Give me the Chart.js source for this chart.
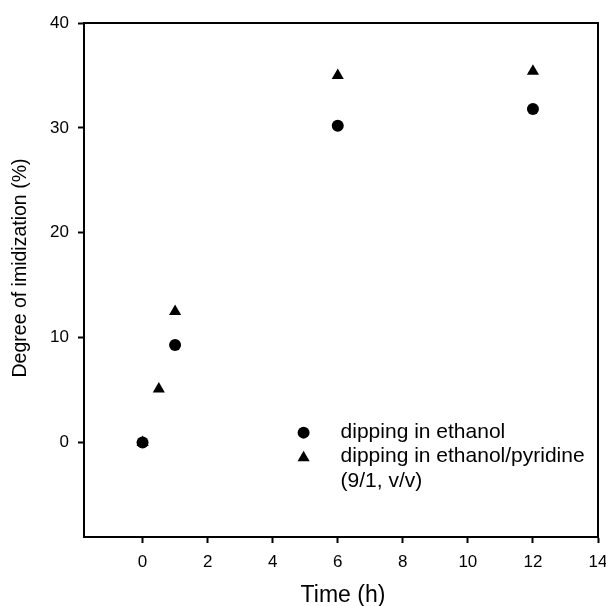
<!DOCTYPE html>
<html>
<head>
<meta charset="utf-8">
<script src="https://cdn.jsdelivr.net/npm/chart.js@4"></script>
<style>
  html, body { margin: 0; padding: 0; background: #fff; }
  #wrap { width: 606px; height: 606px; }
</style>
</head>
<body>
<div id="wrap"><canvas id="myChart" width="606" height="606"></canvas></div>
<script>
// data
const timeEthanol = [0, 1, 6, 12];
const degreeEthanol = [0, 9.3, 30.2, 31.8];
const timePyridine = [0, 0.5, 1, 6, 12];
const degreePyridine = [0, 5.1, 12.5, 35.0, 35.4];
const xTicks = [0, 2, 4, 6, 8, 10, 12, 14];
const yTicks = [0, 10, 20, 30, 40];
const legendLabels = ['dipping in ethanol', 'dipping in ethanol/pyridine', '(9/1, v/v)'];

const FONT = "'Liberation Sans', Arial, sans-serif";

function toPoints(xs, ys) {
    return xs.map((x, i) => ({ x: x, y: ys[i] }));
}

function drawMarker(ctx, style, x, y) {
    ctx.beginPath();
    if (style === 'circle') {
        ctx.arc(x, y, 6, 0, Math.PI * 2);
    } else {
        const r = 7;
        ctx.moveTo(x, y - r);
        ctx.lineTo(x + r * Math.sin(Math.PI * 2 / 3), y - r * Math.cos(Math.PI * 2 / 3));
        ctx.lineTo(x - r * Math.sin(Math.PI * 2 / 3), y - r * Math.cos(Math.PI * 2 / 3));
        ctx.closePath();
    }
    ctx.fillStyle = '#000';
    ctx.fill();
}

// box, titles and in-plot legend
const decorations = {
    id: 'decorations',
    afterDraw(chart) {
        const ctx = chart.ctx;
        const a = chart.chartArea;
        ctx.save();
        ctx.strokeStyle = '#000';
        ctx.lineWidth = 2;
        ctx.beginPath();
        ctx.moveTo(a.left, a.top);
        ctx.lineTo(a.right, a.top);
        ctx.lineTo(a.right, a.bottom);
        ctx.stroke();

        ctx.fillStyle = '#000';
        ctx.textAlign = 'center';
        ctx.textBaseline = 'middle';
        ctx.font = '23px ' + FONT;
        ctx.fillText('Time (h)', (a.left + a.right) / 2 + 2, 596);

        ctx.save();
        ctx.translate(21, 268);
        ctx.rotate(-Math.PI / 2);
        ctx.font = '19.5px ' + FONT;
        ctx.fillText('Degree of imidization (%)', 0, 0);
        ctx.restore();

        const lx = chart.scales.x.getPixelForValue(4.95);
        const ly = chart.scales.y.getPixelForValue(0.95);
        drawMarker(ctx, 'circle', lx, ly);
        drawMarker(ctx, 'triangle', lx, ly + 25);
        ctx.fillStyle = '#000';
        ctx.textAlign = 'left';
        ctx.font = '21px ' + FONT;
        ctx.fillText(legendLabels[0], lx + 37, ly);
        ctx.fillText(legendLabels[1], lx + 37, ly + 24);
        ctx.fillText(legendLabels[2], lx + 37, ly + 49);
        ctx.restore();
    }
};

new Chart(document.getElementById('myChart'), {
    type: 'scatter',
    data: {
        datasets: [
            {
                label: legendLabels[0],
                data: toPoints(timeEthanol, degreeEthanol),
                pointStyle: 'circle',
                pointRadius: 6,
                backgroundColor: '#000',
                borderColor: '#000',
                borderWidth: 0
            },
            {
                label: legendLabels[1],
                data: toPoints(timePyridine, degreePyridine),
                pointStyle: 'triangle',
                pointRadius: 7,
                backgroundColor: '#000',
                borderColor: '#000',
                borderWidth: 0
            }
        ]
    },
    options: {
        responsive: false,
        animation: false,
        layout: { padding: { left: 0, top: 23, right: 8, bottom: 0 } },
        plugins: {
            legend: { display: false },
            tooltip: { enabled: false }
        },
        scales: {
            x: {
                type: 'linear',
                min: -1.8,
                max: 14,
                afterBuildTicks: scale => { scale.ticks = xTicks.map(v => ({ value: v })); },
                afterFit: scale => {
                    scale.height = 69;
                    scale.paddingLeft = 0;
                    scale.paddingRight = 0;
                },
                grid: {
                    drawOnChartArea: false,
                    drawTicks: true,
                    tickLength: 6,
                    tickWidth: 2,
                    tickColor: '#000'
                },
                border: { display: true, color: '#000', width: 2 },
                ticks: {
                    color: '#000',
                    padding: 9,
                    maxRotation: 0,
                    font: { family: FONT, size: 17 }
                }
            },
            y: {
                type: 'linear',
                min: -9,
                max: 40,
                afterBuildTicks: scale => { scale.ticks = yTicks.map(v => ({ value: v })); },
                afterFit: scale => {
                    scale.width = 84;
                    scale.paddingTop = 0;
                    scale.paddingBottom = 0;
                },
                grid: {
                    drawOnChartArea: false,
                    drawTicks: true,
                    tickLength: 6,
                    tickWidth: 2,
                    tickColor: '#000'
                },
                border: { display: true, color: '#000', width: 2 },
                ticks: {
                    color: '#000',
                    padding: 9,
                    font: { family: FONT, size: 17 }
                }
            }
        }
    },
    plugins: [decorations]
});
</script>
</body>
</html>
